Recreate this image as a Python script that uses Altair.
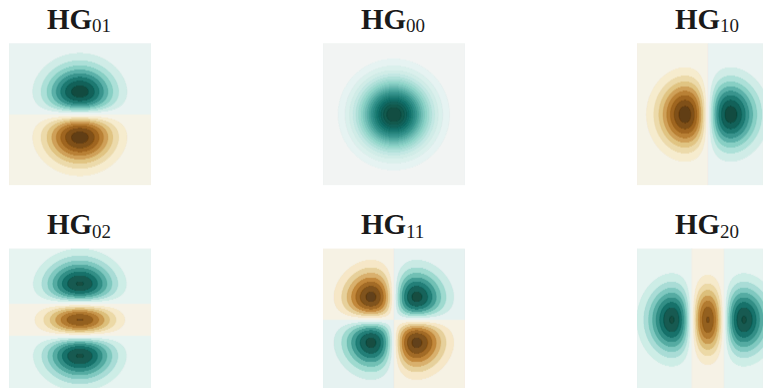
import numpy as np
import pandas as pd
import altair as alt
from math import factorial
from numpy.polynomial.hermite import hermval

alt.data_transformers.disable_max_rows()

# ---- data -------------------------------------------------------------
MODE_M = [0, 0, 1, 0, 1, 2]          # index along x
MODE_N = [1, 0, 0, 2, 1, 0]          # index along y
TITLE_MAIN = "HG"
TITLE_SUB = ["01", "00", "10", "02", "11", "20"]
HALF_EXTENT = 2.2                    # plotted half-width, in units of the waist w
N_LEVELS = 20                        # contourf levels
ROWS = 142
SAMPLES = 852
BRBG = ['#543005', '#8c510a', '#bf812d', '#dfc27d', '#f6e8c3', '#f5f5f5',
        '#c7eae5', '#80cdc1', '#35978f', '#01665e', '#003c30']
BRBG_STOPS = [i / 10 for i in range(11)]

# ---- layout (pixels) ----------------------------------------------------
PANEL = 142
VISIBLE_W = [142, 142, 126, 142, 142, 126]   # right column runs off the page edge
VISIBLE_H = [142, 142, 142, 140, 140, 140]   # bottom row runs off the page edge


def u1d(n, x):
    c = [0] * n + [1]
    return hermval(np.sqrt(2) * x, c) / np.sqrt(2 ** n * factorial(n)) * np.exp(-x ** 2)


def nice_levels(zmin, zmax, nbins):
    raw = (zmax - zmin) / nbins
    scale = 10 ** np.floor(np.log10(raw))
    for s in [1, 2, 2.5, 5, 10]:
        step = s * scale
        if step >= raw - 1e-12:
            break
    lo = np.floor(zmin / step + 1e-9) * step
    hi = np.ceil(zmax / step - 1e-9) * step
    return np.arange(lo, hi + step / 2, step)


def build(m, n):
    L = HALF_EXTENT
    g = np.linspace(-L, L, ROWS)
    grid = np.outer(u1d(n, g), u1d(m, g))
    zmin, zmax = grid.min(), grid.max()
    vmax = max(abs(zmin), abs(zmax))
    levels = nice_levels(zmin, zmax, N_LEVELS + 1)
    dy = 2 * L / ROWS
    xe = np.linspace(-L, L, SAMPLES + 1)
    xc = (xe[:-1] + xe[1:]) / 2
    ux = u1d(m, xc)
    recs = []
    for j in range(ROWS):
        yc = -L + (j + 0.5) * dy
        u = ux * u1d(n, yc)
        idx = np.clip(np.searchsorted(levels, u, side='right') - 1, 0, len(levels) - 2)
        ch = np.nonzero(np.diff(idx))[0] + 1
        starts = np.concatenate([[0], ch])
        ends = np.concatenate([ch, [SAMPLES]])
        for s, e in zip(starts, ends):
            k = idx[s]
            mid = (levels[k] + levels[k + 1]) / 2
            t = float(np.clip(0.5 + mid / (2 * vmax), 0, 1))
            recs.append((round(xe[s], 4), round(xe[e], 4),
                         round(yc - dy / 2, 4), round(yc + dy / 2, 4), round(t, 4)))
    return pd.DataFrame(recs, columns=['x', 'x2', 'y', 'y2', 't'])


cscale = alt.Scale(domain=BRBG_STOPS, range=BRBG, interpolate='rgb')
L = HALF_EXTENT
unit = 2 * L / PANEL

panels = []
for i in range(6):
    df = build(MODE_M[i], MODE_N[i])
    vw, vh = VISIBLE_W[i], VISIBLE_H[i]
    xs = alt.Scale(domain=[-L, -L + vw * unit], nice=False, zero=False)
    ys = alt.Scale(domain=[L - vh * unit, L], nice=False, zero=False)
    field = alt.Chart(df).mark_rect(strokeWidth=0.4, clip=True).encode(
        x=alt.X('x:Q', scale=xs, axis=None),
        x2='x2:Q',
        y=alt.Y('y:Q', scale=ys, axis=None),
        y2='y2:Q',
        color=alt.Color('t:Q', scale=cscale, legend=None),
        stroke=alt.Stroke('t:Q', scale=cscale, legend=None),
    )
    hg = alt.Chart(pd.DataFrame({'s': [TITLE_MAIN]})).mark_text(
        align='right', baseline='alphabetic', font='Liberation Serif',
        fontWeight='bold', fontSize=29, color='#1a1a1a'
    ).encode(x=alt.value(83), y=alt.value(-14.7), text='s:N')
    sub = alt.Chart(pd.DataFrame({'s': [TITLE_SUB[i]]})).mark_text(
        align='left', baseline='alphabetic', font='Liberation Serif',
        fontSize=19, color='#1a1a1a'
    ).encode(x=alt.value(83), y=alt.value(-11), text='s:N')
    panels.append(alt.layer(field, hg, sub).properties(width=vw, height=vh))

chart = alt.vconcat(
    alt.hconcat(*panels[:3], spacing=172),
    alt.hconcat(*panels[3:], spacing=172),
    spacing=25.3,
).properties(
    padding={"left": 1, "top": -2.7, "right": 0, "bottom": 0}
).configure_view(stroke=None)

chart.save("out.html", embed_options={"renderer": "svg", "actions": False})
